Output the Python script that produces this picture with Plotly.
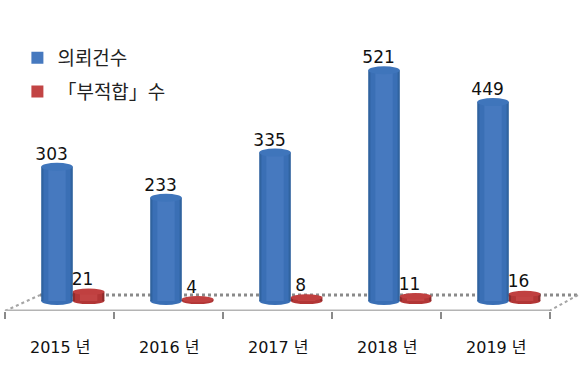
import plotly.graph_objects as go

years = ["2015 년", "2016 년", "2017 년", "2018 년", "2019 년"]
requests = [303, 233, 335, 521, 449]
unfit = [21, 4, 8, 11, 16]
name_requests = "의뢰건수"
name_unfit = "「부적합」수"

FONT = "DejaVu Sans, Noto Sans CJK KR, sans-serif"
idx = list(range(len(years)))
W = 0.29           # bar width, category units
RED_SHIFT = 0.29
BLUE = ["#30639f", "#3a6fb5", "#4679bf"]
RED = ["#8f2c2c", "#b23636", "#c24444"]
BAND = [1.0, 0.86, 0.55]
Y_MIN, Y_MAX = -22.6, 679.5
X_MIN, X_MAX = -0.523, 4.798

fig = go.Figure()

def cylinder(xs, vals, cols, name):
    for band, col in zip(BAND, cols):
        fig.add_trace(go.Bar(
            x=xs, y=vals, width=W * band, marker=dict(color=col, line_width=0),
            name=name, showlegend=band == BAND[-1], legendgroup=name, hoverinfo="skip"))

cylinder(idx, requests, BLUE, name_requests)
cylinder([i + RED_SHIFT for i in idx], unfit, RED, name_unfit)

fig.add_trace(go.Scatter(
    x=[i - 0.05 for i in idx], y=[v + 6 for v in requests], text=[str(v) for v in requests],
    mode="text", textposition="top center", showlegend=False, hoverinfo="skip",
    textfont=dict(family=FONT, size=17, color="#111111")))
fig.add_trace(go.Scatter(
    x=[i + RED_SHIFT - 0.055 for i in idx], y=[v + 5 for v in unfit], text=[str(v) for v in unfit],
    mode="text", textposition="top center", showlegend=False, hoverinfo="skip",
    textfont=dict(family=FONT, size=17, color="#111111")))

shapes = []
FLOOR_BACK = 13.5
shapes.append(dict(type="line", xref="x", yref="y", x0=-0.156, x1=4.78, y0=FLOOR_BACK, y1=FLOOR_BACK,
                   line=dict(color="#8a8a8a", width=3, dash="dot"), layer="below"))
shapes.append(dict(type="line", xref="x", yref="y", x0=-0.477, x1=-0.156, y0=Y_MIN, y1=FLOOR_BACK,
                   line=dict(color="#a5a5a5", width=2, dash="dot"), layer="below"))
shapes.append(dict(type="line", xref="x", yref="y", x0=4.514, x1=4.78, y0=Y_MIN, y1=FLOOR_BACK,
                   line=dict(color="#a5a5a5", width=2, dash="dot"), layer="below"))
shapes.append(dict(type="line", xref="x", yref="y", x0=-0.477, x1=4.514, y0=Y_MIN, y1=Y_MIN,
                   line=dict(color="#b4b4b4", width=3), layer="below"))

def ellipses(xs, vals, dark, top, half):
    for x, v in zip(xs, vals):
        shapes.append(dict(type="circle", xref="x", yref="y", x0=x - W / 2, x1=x + W / 2,
                           y0=-half, y1=half, fillcolor=dark, line_width=0, layer="below"))
        shapes.append(dict(type="circle", xref="x", yref="y", x0=x - W / 2, x1=x + W / 2,
                           y0=v - half, y1=v + half, fillcolor=top, line_width=0, layer="above"))

ellipses(idx, requests, BLUE[1], "#3f75bb", 9)
ellipses([i + RED_SHIFT for i in idx], unfit, RED[1], "#c04040", 7)

fig.update_layout(
    width=580, height=380, autosize=False,
    margin=dict(l=0, r=0, t=0, b=69),
    paper_bgcolor="white", plot_bgcolor="white",
    barmode="overlay", shapes=shapes,
    font=dict(family=FONT, color="#111111"),
    legend=dict(x=0.03, y=0.875, xanchor="left", yanchor="top", tracegroupgap=6,
                font=dict(size=19, family="Noto Sans CJK KR, sans-serif", color="#222222"),
                bgcolor="rgba(0,0,0,0)", itemclick=False, itemdoubleclick=False),
    xaxis=dict(range=[X_MIN, X_MAX], showgrid=False, zeroline=False, showline=False,
               tickmode="array", tickvals=[i + 0.03 for i in idx], ticktext=years,
               ticks="outside", ticklen=22, tickcolor="rgba(0,0,0,0)",
               tickfont=dict(size=16, family=FONT, color="#111111"),
               minor=dict(tickmode="array", tickvals=[i - 0.477 for i in range(6)],
                          ticks="outside", ticklen=7, tickcolor="#8a8a8a", tickwidth=2)),
    yaxis=dict(range=[Y_MIN, Y_MAX], visible=False),
)

fig.write_html("out.html", post_script="document.body.style.margin='0';",
               config={"displayModeBar": False})
